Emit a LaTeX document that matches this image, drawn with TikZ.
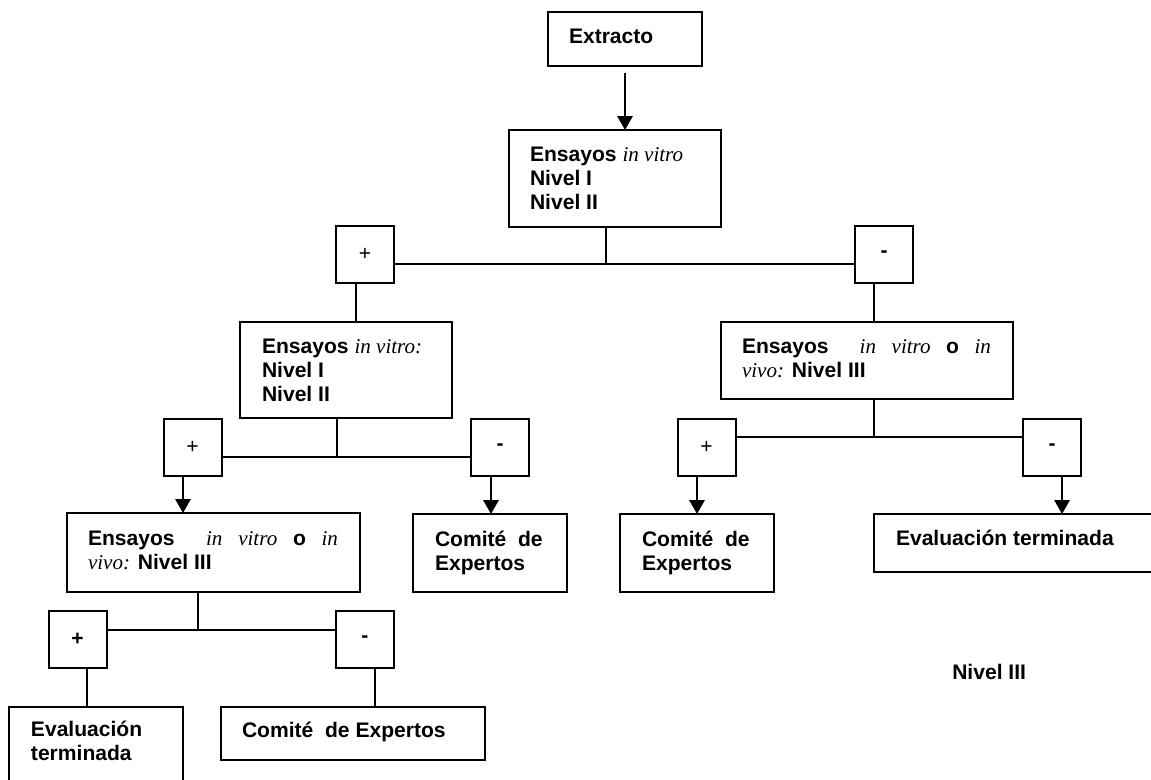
\documentclass[tikz,border=0pt]{standalone}
\usepackage{fontspec}
\setmainfont{Liberation Sans}
\newfontfamily\tnr{Liberation Serif}
\usetikzlibrary{arrows.meta,calc}
\newdimen\bxu
\bxu=0.75pt
\newcommand\iv[1]{{\tnr\mdseries\itshape #1}}
\newcommand\bx[9]{%
 \pgfmathsetlengthmacro\bxw{(#4-#2)*0.75pt}%
 \pgfmathsetlengthmacro\bxh{(#5-#3)*0.75pt}%
 \node[box, minimum width=\bxw, minimum height=\bxh] (#1) at (#2,#3)
 {\begin{minipage}[t][\bxh][t]{\bxw}\parindent=0pt\leftskip=#6\bxu\rightskip=#7\bxu\relax\rule{0pt}{#8\bxu}#9\end{minipage}};}
\tikzset{
 box/.style={draw, line width=1.5pt, anchor=north west, inner sep=0pt, outer sep=0pt},
 sign/.style={draw, line width=1.5pt, minimum width=43.5pt, minimum height=42.75pt, inner sep=0pt, outer sep=0pt},
 conn/.style={line width=1.5pt},
 arr/.style={line width=1.5pt, -{Triangle[length=10.5pt,width=11.5pt]}}
}
\begin{document}
\begin{tikzpicture}[x=0.75pt,y=-0.75pt, font=\fontsize{15.8}{18}\selectfont\bfseries]
\useasboundingbox (0,0) rectangle (1151,779);
\bx{ext}{548}{12}{702}{66}{21}{0}{31}{Extracto}
\bx{b2}{509}{130}{721}{227}{21}{0}{31}{Ensayos \iv{in vitro}\\Nivel I\\Nivel II}
\bx{b3}{240}{322}{452}{418}{22}{0}{31}{Ensayos \iv{in vitro:}\\Nivel I\\Nivel II}
\bx{b4}{721}{322}{1013}{399}{21}{22}{31}{Ensayos\hfill\hfill\iv{in}\hfill\iv{vitro}\hfill o\hfill\iv{in}\\\iv{vivo:} Nivel III}
\bx{b5}{67}{513}{360}{592}{21}{22}{32}{Ensayos\hfill\hfill\iv{in}\hfill\iv{vitro}\hfill o\hfill\iv{in}\\\iv{vivo:} Nivel III}
\bx{b6}{413}{514}{567}{592}{22}{0}{32}{Comité\ \ de\\Expertos}
\bx{b9}{620}{514}{774}{592}{22}{0}{32}{Comité\ \ de\\Expertos}
\bx{b10}{874}{514}{1165}{572}{22}{0}{31}{Evaluación terminada}
\bx{b7}{9}{707}{183}{795}{22}{0}{29}{Evaluación\\terminada}
\bx{b8}{221}{707}{485}{760}{21}{0}{30}{Comité\ \ de Expertos}
\node[anchor=base west, inner sep=0pt] (n3) at (952,679) {Nivel III};

\node[sign] (s1) at (365,254.5) {\mdseries +};
\node[sign] (s2) at (884,254.5) {-};
\node[sign] (s3) at (192.5,447) {\mdseries +};
\node[sign] (s4) at (500,447.5) {-};
\node[sign] (s5) at (706.5,447) {\mdseries +};
\node[sign] (s6) at (1052,447) {-};
\node[sign] (s7) at (77.5,639.5) {+};
\node[sign] (s8) at (365,639.5) {-};

\draw[arr] ([yshift=-5.25pt]ext.south) -- (b2.north -| ext.south);
\coordinate (j1) at (606,264);
\draw[conn] (b2.south -| j1) -- (j1);
\draw[conn] (s1.east |- j1) -- (s2.west |- j1);
\coordinate (k1) at (356,300);
\draw[conn] (s1.south -| k1) -- (b3.north -| k1);
\coordinate (k2) at (874,300);
\draw[conn] (s2.south -| k2) -- (b4.north -| k2);
\coordinate (j2) at (337,457);
\draw[conn] (b3.south -| j2) -- (j2);
\draw[conn] (s3.east |- j2) -- (s4.west |- j2);
\coordinate (k3) at (183,495);
\draw[arr] (s3.south -| k3) -- (b5.north -| k3);
\coordinate (k4) at (491,495);
\draw[arr] (s4.south -| k4) -- (b6.north -| k4);
\coordinate (j3) at (874,437);
\draw[conn] (b4.south -| j3) -- (j3);
\draw[conn] (s5.east |- j3) -- (s6.west |- j3);
\coordinate (k5) at (697,495);
\draw[arr] (s5.south -| k5) -- (b9.north -| k5);
\coordinate (k6) at (1062,495);
\draw[arr] (s6.south -| k6) -- (b10.north -| k6);
\coordinate (j4) at (198,630);
\draw[conn] (b5.south -| j4) -- (j4);
\draw[conn] (s7.east |- j4) -- (s8.west |- j4);
\coordinate (k7) at (87,690);
\draw[conn] (s7.south -| k7) -- (b7.north -| k7);
\coordinate (k8) at (375,690);
\draw[conn] (s8.south -| k8) -- (b8.north -| k8);
\end{tikzpicture}
\end{document}
